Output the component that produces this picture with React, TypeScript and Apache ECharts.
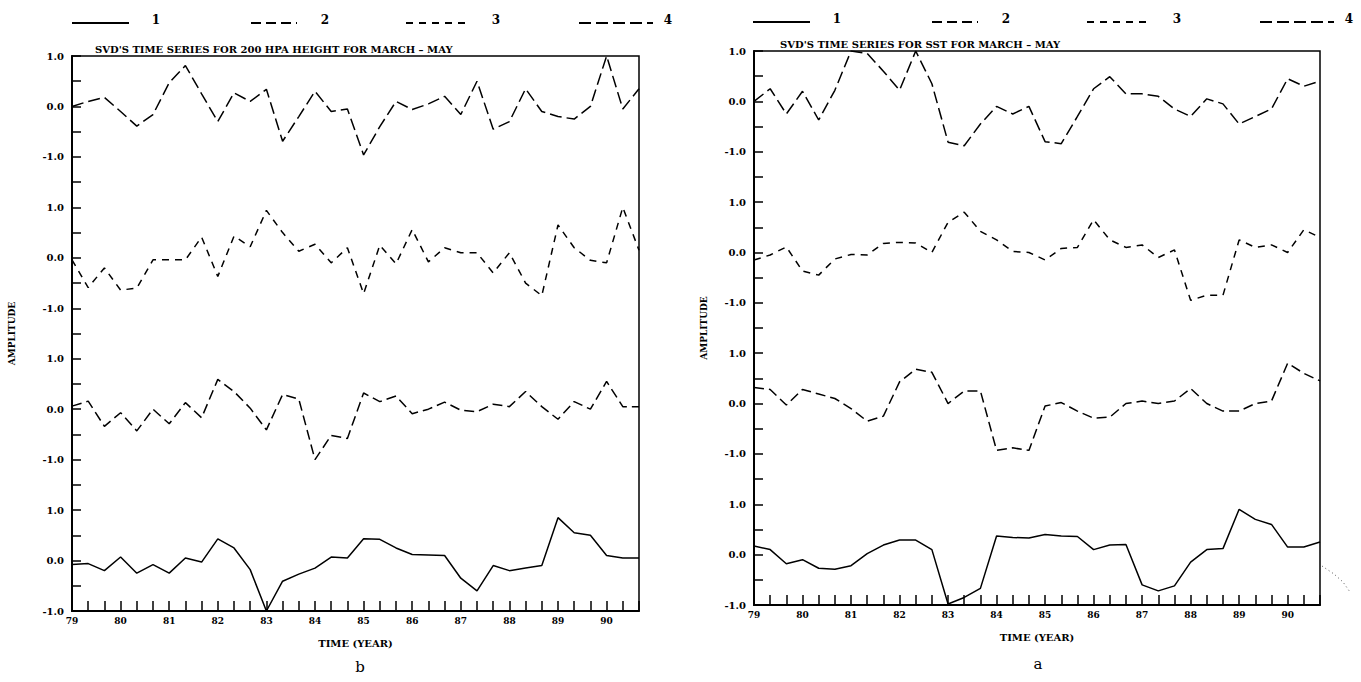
import React, { useEffect, useRef } from "react";
import * as echarts from "echarts";

const years = ["79", "80", "81", "82", "83", "84", "85", "86", "87", "88", "89", "90"];
const months = ["Mar", "Apr", "May"];
const categories = years.flatMap((y) => months.map((m) => `${y} ${m}`));

const seriesNames = ["1", "2", "3", "4"];
const bandOffsets = [0, 3, 6, 9];

// Panel b: 200 hPa height
const hgt1 = [-0.08, -0.06, -0.2, 0.07, -0.25, -0.08, -0.25, 0.05, -0.03, 0.43, 0.25, -0.18, -1.0, -0.41, -0.27, -0.15, 0.07, 0.05, 0.43, 0.42, 0.25, 0.12, 0.11, 0.1, -0.35, -0.6, -0.1, -0.2, -0.15, -0.1, 0.85, 0.55, 0.5, 0.1, 0.05, 0.05];
const hgt2 = [0.06, 0.16, -0.34, -0.07, -0.43, 0.0, -0.29, 0.13, -0.17, 0.59, 0.35, 0.02, -0.41, 0.29, 0.2, -1.0, -0.52, -0.58, 0.32, 0.15, 0.26, -0.09, 0.0, 0.14, -0.02, -0.05, 0.1, 0.05, 0.35, 0.05, -0.2, 0.15, 0.0, 0.55, 0.05, 0.05];
const hgt3 = [-0.04, -0.59, -0.2, -0.64, -0.6, -0.04, -0.04, -0.04, 0.41, -0.37, 0.43, 0.22, 0.94, 0.5, 0.13, 0.27, -0.1, 0.2, -0.71, 0.25, -0.12, 0.56, -0.08, 0.2, 0.1, 0.1, -0.3, 0.1, -0.5, -0.75, 0.65, 0.2, -0.05, -0.1, 1.0, 0.15];
const hgt4 = [0.0, 0.1, 0.18, -0.1, -0.39, -0.16, 0.47, 0.81, 0.25, -0.3, 0.27, 0.1, 0.34, -0.69, -0.2, 0.3, -0.1, -0.05, -0.96, -0.4, 0.1, -0.06, 0.05, 0.2, -0.16, 0.5, -0.45, -0.3, 0.35, -0.1, -0.2, -0.25, 0.0, 1.0, -0.05, 0.35];

// Panel a: SST
const sst1 = [0.17, 0.1, -0.18, -0.1, -0.27, -0.29, -0.22, 0.02, 0.19, 0.29, 0.29, 0.1, -0.98, -0.85, -0.67, 0.37, 0.34, 0.33, 0.4, 0.37, 0.36, 0.1, 0.19, 0.2, -0.6, -0.72, -0.62, -0.15, 0.1, 0.12, 0.9, 0.7, 0.6, 0.15, 0.15, 0.25];
const sst2 = [0.32, 0.28, -0.03, 0.28, 0.19, 0.1, -0.1, -0.35, -0.25, 0.43, 0.68, 0.62, 0.0, 0.25, 0.25, -0.93, -0.88, -0.93, -0.05, 0.02, -0.15, -0.29, -0.27, 0.0, 0.05, 0.0, 0.05, 0.3, 0.0, -0.15, -0.15, 0.0, 0.05, 0.8, 0.6, 0.45];
const sst3 = [-0.15, -0.05, 0.11, -0.37, -0.45, -0.13, -0.04, -0.05, 0.18, 0.2, 0.19, 0.0, 0.6, 0.8, 0.42, 0.25, 0.02, 0.0, -0.15, 0.08, 0.1, 0.65, 0.25, 0.1, 0.15, -0.1, 0.05, -0.95, -0.85, -0.85, 0.25, 0.1, 0.15, 0.0, 0.45, 0.3];
const sst4 = [0.0, 0.25, -0.25, 0.2, -0.37, 0.22, 1.0, 0.95, 0.6, 0.22, 1.0, 0.35, -0.81, -0.88, -0.45, -0.1, -0.25, -0.1, -0.8, -0.84, -0.3, 0.25, 0.49, 0.15, 0.15, 0.1, -0.15, -0.3, 0.05, -0.05, -0.45, -0.3, -0.15, 0.45, 0.3, 0.4];

const panelB = [hgt1, hgt2, hgt3, hgt4];
const panelA = [sst1, sst2, sst3, sst4];

const FONT = "DejaVu Serif";
const dashTypes: any[] = ["solid", [10, 5], [7, 6], [12, 5]];

function yLabel(v: number): string {
  const band = Math.round(v / 3);
  const local = v - 3 * band;
  if (Math.abs(local) > 1.001) return "";
  if (Math.abs(local - Math.round(local)) > 1e-6) return "";
  const r = Math.round(local);
  return r < 0 ? "-" + Math.abs(r).toFixed(1) : r.toFixed(1);
}

export default function App() {
  const ref = useRef<HTMLDivElement>(null);
  useEffect(() => {
    if (!ref.current) return;
    const chart = echarts.init(ref.current, undefined, { renderer: "svg" });
    const grids = [
      { left: 72, top: 56, width: 567, height: 555 },
      { left: 754, top: 51, width: 566, height: 554 },
    ];
    const textBase = { color: "#000", fontFamily: FONT, fontWeight: "bold" as const };
    const xAxes = grids.map((_, gi) => ({
      type: "category",
      gridIndex: gi,
      data: categories,
      boundaryGap: false,
      axisLine: { onZero: false, lineStyle: { color: "#000", width: 2 } },
      axisTick: { inside: true, length: 10, interval: 0, lineStyle: { color: "#000", width: 1.5 } },
      axisLabel: {
        ...textBase,
        fontSize: 9,
        margin: 5,
        interval: (i: number) => i % 3 === 0,
        formatter: (v: string) => v.split(" ")[0],
      },
      splitLine: { show: false },
      name: "TIME (YEAR)",
      nameLocation: "middle",
      nameGap: 27,
      nameTextStyle: { ...textBase, fontSize: 10 },
    }));
    const yAxes = grids.map((_, gi) => ({
      type: "value",
      gridIndex: gi,
      min: -1,
      max: 10,
      interval: 0.5,
      axisLine: { show: true, onZero: false, lineStyle: { color: "#000", width: 2 } },
      axisTick: { show: true, inside: true, length: 9, lineStyle: { color: "#000", width: 1.5 } },
      axisLabel: { ...textBase, fontSize: 10, margin: 8, formatter: yLabel },
      splitLine: { show: false },
      name: "AMPLITUDE",
      nameLocation: "middle",
      nameGap: gi === 0 ? 56 : 46,
      nameRotate: 90,
      nameTextStyle: { ...textBase, fontSize: 9 },
    }));
    const series: any[] = [];
    [panelB, panelA].forEach((panel, gi) => {
      panel.forEach((vals, si) => {
        series.push({
          type: "line",
          name: seriesNames[si],
          xAxisIndex: gi,
          yAxisIndex: gi,
          data: vals.map((v) => v + bandOffsets[si]),
          symbol: "none",
          lineStyle: { color: "#000", width: 1.5, type: dashTypes[si] },
        });
      });
    });

    const legendLayout = [
      { x0: 0, y: 20 },
      { x0: 681, y: 19 },
    ];
    const legendSeg = [
      [72, 129, 156],
      [251, 297, 325],
      [406, 465, 496],
      [579, 653, 668],
    ];
    const graphic: any[] = [];
    legendLayout.forEach((L) => {
      legendSeg.forEach((s, si) => {
        const dash = dashTypes[si];
        graphic.push({
          type: "line",
          shape: { x1: L.x0 + s[0], y1: L.y + 3, x2: L.x0 + s[1], y2: L.y + 3 },
          style: { stroke: "#000", lineWidth: 1.8, lineDash: Array.isArray(dash) ? dash : null },
        });
        graphic.push({
          type: "text",
          x: L.x0 + s[2],
          y: L.y,
          style: { text: seriesNames[si], font: `bold 12px "${FONT}"`, fill: "#000", textAlign: "center", textVerticalAlign: "middle" },
        });
      });
    });
    graphic.push({
      type: "text",
      x: 95,
      y: 49,
      style: { text: "SVD'S TIME SERIES FOR 200 HPA HEIGHT FOR MARCH \u2013 MAY", font: `bold 10px "${FONT}"`, fill: "#000", textAlign: "left", textVerticalAlign: "middle" },
    });
    graphic.push({
      type: "text",
      x: 780,
      y: 44,
      style: { text: "SVD'S TIME SERIES FOR SST FOR MARCH \u2013 MAY", font: `bold 10px "${FONT}"`, fill: "#000", textAlign: "left", textVerticalAlign: "middle" },
    });
    graphic.push({
      type: "text",
      x: 360,
      y: 667,
      style: { text: "b", font: `15px "${FONT}"`, fill: "#000", textAlign: "center", textVerticalAlign: "middle" },
    });
    graphic.push({
      type: "text",
      x: 1038,
      y: 664,
      style: { text: "a", font: `15px "${FONT}"`, fill: "#000", textAlign: "center", textVerticalAlign: "middle" },
    });
    graphic.push({
      type: "polyline",
      shape: { points: [[1322, 566], [1334, 574], [1343, 582], [1350, 592]] },
      style: { stroke: "#555", lineWidth: 1, lineDash: [1, 3], fill: null },
    });

    chart.setOption({
      animation: false,
      backgroundColor: "#fff",
      grid: grids.map((g) => ({ ...g, show: true, borderColor: "#000", borderWidth: 1.5, backgroundColor: "transparent" })),
      xAxis: xAxes,
      yAxis: yAxes,
      series,
      graphic,
    });
    return () => chart.dispose();
  }, []);
  return (
    <div
      ref={ref}
      style={{ position: "fixed", left: 0, top: 0, width: 1361, height: 682, background: "#fff" }}
    />
  );
}
